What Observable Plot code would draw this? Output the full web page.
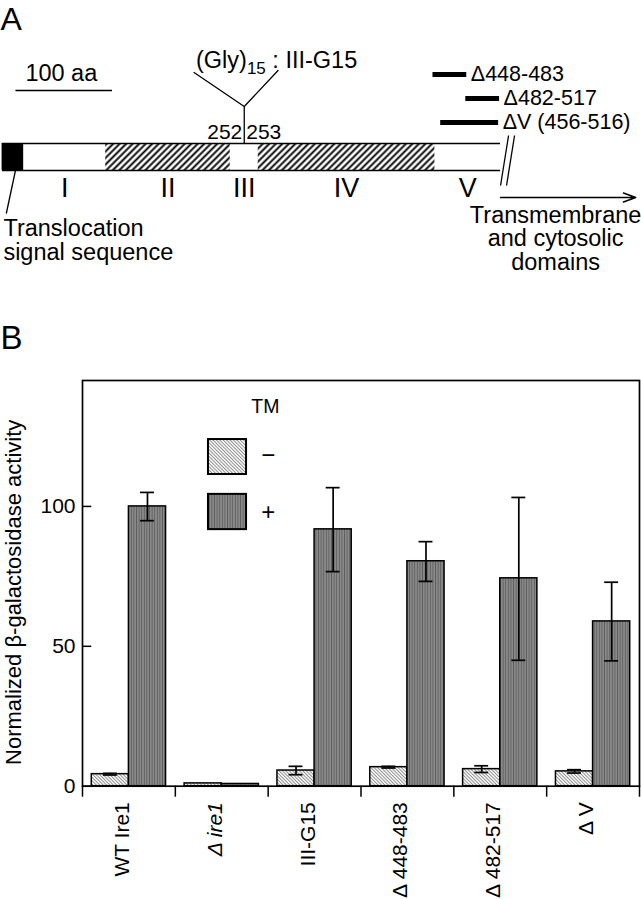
<!DOCTYPE html>
<html><head><meta charset="utf-8">
<script src="https://cdn.jsdelivr.net/npm/d3@7"></script>
<script src="https://cdn.jsdelivr.net/npm/@observablehq/plot@0.6"></script>
<style>
body{margin:0;background:#fff;}
#fig{width:641px;}
svg{display:block;}
</style></head><body><div id="fig"></div>
<script>
// ---------- Panel A data (amino-acid positions) ----------
const domainNames   = ["I","II","III","IV","V"];
const domainStart   = [24,109,238,267,450];
const domainEnd     = [109,238,267,450,518];
const domainHatched = [false,true,false,true,false];
const signalSeq     = [2,24];
const insertAfter   = 252;          // (Gly)15 inserted between 252 and 253
const scaleBarStart = 16, scaleBarAA = 100;
const deletionLabels = ["Δ448-483","Δ482-517","ΔV (456-516)"];
const deletionStart  = [448,482,456];
const deletionEnd    = [483,517,516];

// ---------- Panel B data ----------
const constructs = ["WT Ire1","Δ ire1","III-G15","Δ 448-483","Δ 482-517","Δ V"];
const tmMinus    = [4.3,1.0,5.6,6.8,6.1,5.3];
const tmMinusErr = [0.3,0,1.5,0.3,1.2,0.6];
const tmPlus     = [100,0.8,91.8,80.4,74.3,58.9];
const tmPlusLo   = [94.9,0.8,76.7,73.2,45,44.8];
const tmPlusHi   = [105,0.8,106.7,87.4,103.2,72.9];
const yTicks     = [0,50,100];
const tmLevels   = ["−","+"];

const FONT = "'Liberation Sans', Arial, Helvetica, sans-serif";

function addPattern(svg, id, size, angle, bg, line, lw) {
  let defs = d3.select(svg).select("defs");
  if (defs.empty()) defs = d3.select(svg).insert("defs", ":first-child");
  const p = defs.append("pattern").attr("id", id)
    .attr("patternUnits", "userSpaceOnUse")
    .attr("width", size).attr("height", size)
    .attr("patternTransform", `rotate(${angle})`);
  p.append("rect").attr("width", size).attr("height", size).attr("fill", bg);
  p.append("line").attr("x1", size/2).attr("x2", size/2).attr("y1", 0).attr("y2", size)
    .attr("stroke", line).attr("stroke-width", lw);
}

// ---------- Panel A ----------
const L = { // vertical layout rows (px)
  label: 19, scaleText: 73, scaleBar: 90, gly: 60, armTop: 71, armJoin: 106,
  posText: 132, barTop: 143, barBot: 170, domLabel: 188, arrow: 197,
  slashTop: 135, slashBot: 185, del: [74, 98, 122], signalText: 240, tmText: 238
};
const domains = domainNames.map((n,i)=>({name:n, start:domainStart[i], end:domainEnd[i], hatched:domainHatched[i]}));
const deletions = deletionLabels.map((n,i)=>({name:n, start:deletionStart[i], end:deletionEnd[i], y:L.del[i]}));
const insertPos = insertAfter + 0.5;
const seqEnd = domainEnd[domainEnd.length-1];

const A = Plot.plot({
  width: 641, height: 300, margin: 0,
  x: {domain: [0, 664], range: [0, 641], axis: null},
  y: {domain: [0, 300], range: [0, 300], axis: null},
  style: {fontFamily: FONT, background: "white", color: "black"},
  marks: [
    Plot.text(["A"], {x: 0, y: L.label, text: d=>d, textAnchor: "start", fontSize: 32}),
    // scale bar
    Plot.ruleY([0], {y: L.scaleBar, x1: scaleBarStart, x2: scaleBarStart + scaleBarAA, stroke: "black", strokeWidth: 1.5}),
    Plot.text([`${scaleBarAA} aa`], {x: scaleBarStart + scaleBarAA/2 - 3, y: L.scaleText, text: d=>d, fontSize: 23.5}),
    // domains
    Plot.rect(domains.filter(d=>!d.hatched), {x1: "start", x2: "end", y1: L.barTop, y2: L.barBot, fill: "white"}),
    Plot.rect(domains.filter(d=>d.hatched), {x1: "start", x2: "end", y1: L.barTop, y2: L.barBot, fill: "url(#hatchA)"}),
    Plot.rect([signalSeq], {x1: d=>d[0], x2: d=>d[1], y1: L.barTop, y2: L.barBot, fill: "black"}),
    Plot.ruleY([L.barTop, L.barBot], {y: d=>d, x1: signalSeq[0], x2: seqEnd, stroke: "black", strokeWidth: 1.6}),
    Plot.ruleX([signalSeq[0]], {x: d=>d, y1: L.barTop, y2: L.barBot, stroke: "black", strokeWidth: 1.6}),
    Plot.text(domains, {x: d=>(d.start+d.end)/2, y: L.domLabel, text: "name", fontSize: 27}),
    // insertion
    Plot.ruleX([insertPos], {x: d=>d, y1: L.armJoin, y2: L.barTop, stroke: "black", strokeWidth: 1.3}),
    Plot.line([[insertPos-52, L.armTop+1],[insertPos, L.armJoin],[insertPos+35, L.armTop-1]], {x: d=>d[0], y: d=>d[1], stroke: "black", strokeWidth: 1.3}),
    Plot.text([String(insertAfter)], {x: insertPos, y: L.posText, text: d=>d, textAnchor: "end", dx: -2, fontSize: 21}),
    Plot.text([String(insertAfter+1)], {x: insertPos, y: L.posText, text: d=>d, textAnchor: "start", dx: 2, fontSize: 21}),
    Plot.text(["(Gly)15 : III-G15"], {x: insertPos - 50, y: L.gly, text: d=>d, textAnchor: "start", fontSize: 23.5, className: "gly"}),
    // deletions
    Plot.ruleY(deletions, {y: "y", x1: "start", x2: "end", stroke: "black", strokeWidth: 5}),
    Plot.text(deletions, {x: "end", y: "y", text: "name", textAnchor: "start", dx: 4, fontSize: 21.5}),
    // break + arrow
    Plot.link([0, 6.2], {x1: d=>seqEnd + 8.3 + d, y1: L.slashTop, x2: d=>seqEnd + d, y2: L.slashBot, stroke: "black", strokeWidth: 1.3}),
    Plot.arrow([0], {x1: seqEnd, x2: 658, y1: L.arrow, y2: L.arrow, stroke: "black", strokeWidth: 1.5, headLength: 13, headAngle: 40}),
    // annotations
    Plot.link([0], {x1: 15.5, y1: L.barBot, x2: 6, y2: 213, stroke: "black", strokeWidth: 1.3}),
    Plot.text(["Translocation\nsignal sequence"], {x: 3, y: L.signalText, text: d=>d, textAnchor: "start", fontSize: 23.5, lineHeight: 1.0}),
    Plot.text(["Transmembrane\nand cytosolic\ndomains"], {x: 575, y: L.tmText, text: d=>d, fontSize: 23.5, lineHeight: 1.0})
  ]
});
addPattern(A, "hatchA", 4.6, 45, "white", "black", 1.9);
d3.select(A).selectAll(".gly text").html('(Gly)<tspan dy="6" font-size="17">15</tspan><tspan dy="-6"> : III-G15</tspan>');

// ---------- Panel B ----------
const bars = constructs.flatMap((c,i)=>[
  {i, tm: tmLevels[0], x1: i+0.1, x2: i+0.5, v: tmMinus[i], lo: tmMinus[i]-tmMinusErr[i], hi: tmMinus[i]+tmMinusErr[i]},
  {i, tm: tmLevels[1], x1: i+0.5, x2: i+0.9, v: tmPlus[i], lo: tmPlusLo[i], hi: tmPlusHi[i]}
]);
const errs = bars.filter(d=>d.hi > d.lo);
const cx = d=>(d.x1+d.x2)/2;
const capHalf = 0.075;
// legend layout (x in group units, y in data units)
const legend = [
  {tm: tmLevels[0], x1: 1.357, x2: 1.767, y1: 111.4, y2: 123.9, ty: 118.2, fill: "url(#hatchMinus)"},
  {tm: tmLevels[1], x1: 1.357, x2: 1.767, y1: 91.7, y2: 104.3, ty: 97.8, fill: "url(#stripePlus)"}
];

const B = Plot.plot({
  width: 641, height: 599, marginTop: 80, marginBottom: 113.3, marginLeft: 82, marginRight: 2,
  x: {domain: [0, 6], axis: null},
  y: {domain: [0, 145], axis: null},
  style: {fontFamily: FONT, background: "white", color: "black"},
  marks: [
    Plot.rect(bars.filter(d=>d.tm===tmLevels[0]), {x1: "x1", x2: "x2", y1: 0, y2: "v", fill: "url(#hatchMinus)", stroke: "black", strokeWidth: 1.5}),
    Plot.rect(bars.filter(d=>d.tm===tmLevels[1]), {x1: "x1", x2: "x2", y1: 0, y2: "v", fill: "url(#stripePlus)", stroke: "black", strokeWidth: 1.5}),
    Plot.ruleX(errs, {x: cx, y1: "lo", y2: "hi", stroke: "black", strokeWidth: 1.7}),
    Plot.ruleY(errs, {y: "hi", x1: d=>cx(d)-capHalf, x2: d=>cx(d)+capHalf, stroke: "black", strokeWidth: 1.7}),
    Plot.ruleY(errs, {y: "lo", x1: d=>cx(d)-capHalf, x2: d=>cx(d)+capHalf, stroke: "black", strokeWidth: 1.7}),
    Plot.frame({stroke: "black", strokeWidth: 1.7}),
    Plot.ruleY(yTicks, {y: d=>d, x1: 0, x2: 0.1, stroke: "black", strokeWidth: 1.5}),
    Plot.text(yTicks, {x: 0, y: d=>d, text: d=>String(d), textAnchor: "end", dx: -7, fontSize: 21}),
    Plot.axisX({ticks: d3.range(7), tickSize: 11, tickFormat: ()=>"", strokeWidth: 1.5}),
    Plot.text(constructs, {x: (d,i)=>i+0.5, frameAnchor: "bottom", text: d=>d, rotate: -90, textAnchor: "end", dy: 16, fontSize: 21, className: "xlab"}),
    Plot.text(["Normalized β-galactosidase activity"], {frameAnchor: "left", text: d=>d, rotate: -90, textAnchor: "middle", dx: -69, dy: 9, fontSize: 22}),
    Plot.text(["B"], {frameAnchor: "top-left", text: d=>d, textAnchor: "start", lineAnchor: "top", dx: -82, dy: -55, fontSize: 33}),
    // legend
    Plot.text(["TM"], {x: 1.97, y: 135.5, text: d=>d, fontSize: 19.5}),
    Plot.rect(legend, {x1: "x1", x2: "x2", y1: "y1", y2: "y2", fill: "fill", stroke: "black", strokeWidth: 2}),
    Plot.text(legend, {x: 2.0, y: "ty", text: "tm", fontSize: 24})
  ]
});
addPattern(B, "hatchMinus", 2.4, -45, "#f2f2f2", "#8a8a8a", 0.8);
addPattern(B, "stripePlus", 2.6, 0, "#8c8c8c", "#5e5e5e", 1.0);
d3.select(B).selectAll(".xlab text").filter(function(){return this.textContent === "Δ ire1";}).attr("font-style", "italic");

const fig = document.getElementById("fig");
fig.appendChild(A);
fig.appendChild(B);
</script></body></html>
